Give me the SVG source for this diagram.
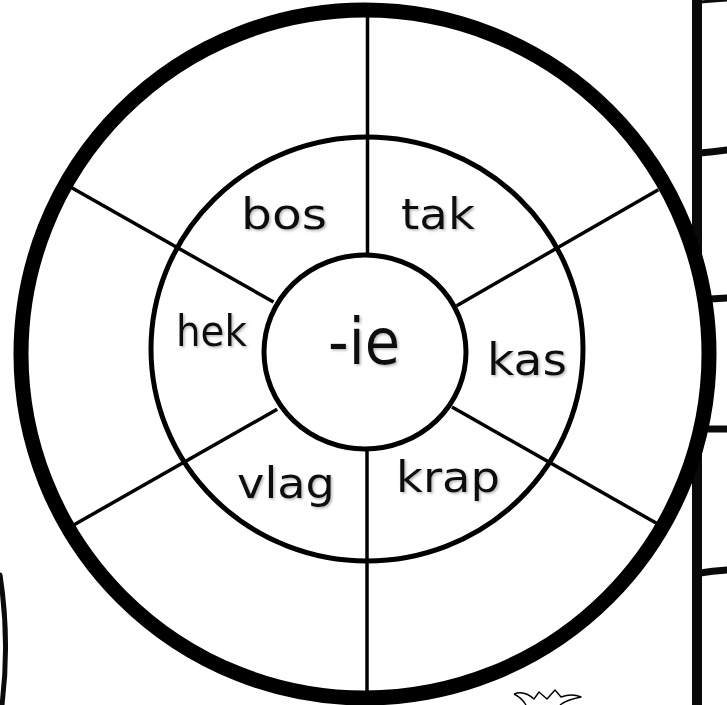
<svg xmlns="http://www.w3.org/2000/svg" width="727" height="705" viewBox="0 0 727 705">
<style>
.ring{fill:none;stroke:#000}
.spoke{stroke:#000;stroke-width:3.5;stroke-linecap:butt}
.lbl{font-family:"DejaVu Sans","Liberation Sans",sans-serif;fill:#111;filter:url(#sh)}
.edge{fill:none;stroke:#0a0a08;stroke-linecap:round}
</style>
<defs>
<filter id="sh" x="-10%" y="-10%" width="130%" height="140%">
<feDropShadow dx="1.5" dy="1.5" stdDeviation="1" flood-color="#888" flood-opacity="0.6"/>
</filter>
</defs>
<rect width="727" height="705" fill="#fff"/>
<g id="page-edge">
<line x1="697" y1="0" x2="697" y2="705" stroke="#0a0a08" stroke-width="10"/>
<path class="edge" d="M700,2 Q712,1 727,0" stroke-width="3"/>
<path class="edge" d="M700,153 Q712,152 727,150" stroke-width="7"/>
<path class="edge" d="M710,299 L727,298" stroke-width="7"/>
<path class="edge" d="M708,429 L727,429" stroke-width="7"/>
<path class="edge" d="M700,573 Q712,571 727,570" stroke-width="7"/>
<path class="edge" d="M0,575 Q10,640 2,705" stroke-width="5"/>
<path fill="none" stroke="#000" stroke-width="1.4" stroke-linejoin="round" d="M514,694 Q524,690 534,699 L539,692 L547,699 L555,690 L561,697 Q572,693 581,697 Q566,700 560,705 M526,705 Q522,698 514,694"/>
</g>
<g id="outer-ring">
<circle cx="365" cy="354" r="344" fill="#fff" stroke="#000" stroke-width="15"/>
</g>
<g id="middle-ring">
<ellipse class="ring" cx="367" cy="349" rx="216" ry="212" stroke-width="5"/>
</g>
<g id="connectors">
<line class="spoke" x1="367.5" y1="16" x2="367.5" y2="256"/>
<line class="spoke" x1="367" y1="448" x2="367" y2="693"/>
<line class="spoke" x1="69.5" y1="186.6" x2="273.5" y2="302"/>
<line class="spoke" x1="658.3" y1="189.7" x2="456.7" y2="305.8"/>
<line class="spoke" x1="71.9" y1="526" x2="277.2" y2="409.2"/>
<line class="spoke" x1="657.4" y1="523.8" x2="452" y2="407"/>
</g>
<g id="center">
<ellipse cx="365" cy="352" rx="101" ry="97" fill="#fff" stroke="#000" stroke-width="5"/>
<text class="lbl" x="328" y="364" font-size="64" textLength="72" lengthAdjust="spacingAndGlyphs">-ie</text>
</g>
<g id="node-bos"><text class="lbl" x="241" y="229" font-size="43" textLength="86" lengthAdjust="spacingAndGlyphs">bos</text></g>
<g id="node-tak"><text class="lbl" x="401" y="229" font-size="43" textLength="74" lengthAdjust="spacingAndGlyphs">tak</text></g>
<g id="node-hek"><text class="lbl" x="176" y="346" font-size="42" textLength="71" lengthAdjust="spacingAndGlyphs">hek</text></g>
<g id="node-kas"><text class="lbl" x="487" y="375" font-size="45" textLength="80" lengthAdjust="spacingAndGlyphs">kas</text></g>
<g id="node-vlag"><text class="lbl" x="237" y="498" font-size="43" textLength="98" lengthAdjust="spacingAndGlyphs">vlag</text></g>
<g id="node-krap"><text class="lbl" x="396" y="492" font-size="43" textLength="104" lengthAdjust="spacingAndGlyphs">krap</text></g>
</svg>
